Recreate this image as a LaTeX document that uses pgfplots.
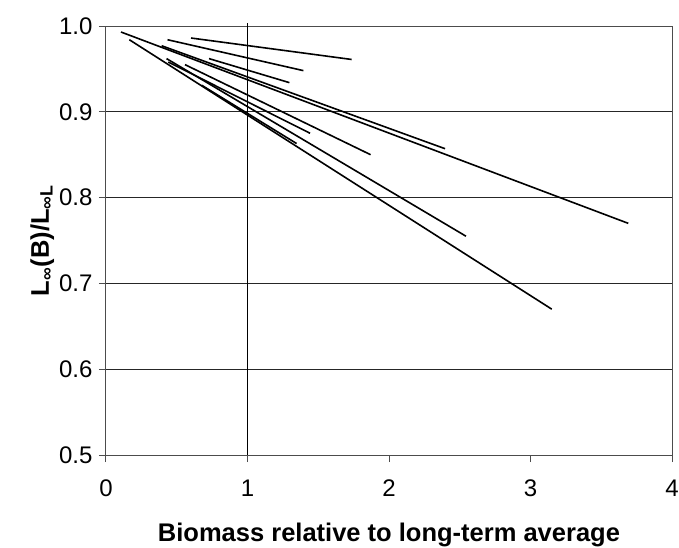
\documentclass[border=0pt]{standalone}
\usepackage{pgfplots}
\pgfplotsset{compat=1.18}
\usepackage{fontspec}
\setmainfont{Liberation Sans}

\begin{document}
\begin{tikzpicture}
\begin{axis}[
    name=ax,
    scale only axis,
    width=566pt, height=429pt,
    xmin=0, xmax=4,
    ymin=0.5, ymax=1.0,
    xtick={0,1,2,3,4},
    ytick={0.5,0.6,0.7,0.8,0.9,1.0},
    ymajorgrids,
    major grid style={black!85, line width=0.8pt},
    axis line style={black!70, line width=1pt},
    tick style={black!70, line width=1pt},
    tick align=outside,
    major tick length=7pt,
    xtick pos=bottom, ytick pos=left,
    /pgf/number format/assume math mode=true,
    yticklabel style={/pgf/number format/fixed, /pgf/number format/fixed zerofill,
        /pgf/number format/precision=1, xshift=-3pt},
    ticklabel style={font=\fontsize{24}{28}\selectfont},
    xticklabel style={yshift=-14pt},
    label style={font=\fontsize{25.5}{30}\selectfont\bfseries},
    xlabel={Biomass relative to long-term average},
    ylabel={L\textsubscript{∞}(B)/L\textsubscript{∞L}},
    xlabel style={yshift=-20pt},
    ylabel style={yshift=-2pt},
    clip=false,
]
% vertical reference at B = 1
\addplot[black, line width=1.7pt] coordinates {(1,0.5) (1,1.003)};

% individual relationships
\addplot[black, line width=1.6pt] coordinates {(0.106,0.993) (3.691,0.770)};
\addplot[black, line width=1.6pt] coordinates {(0.165,0.984) (3.150,0.670)};
\addplot[black, line width=1.6pt] coordinates {(0.393,0.977) (2.396,0.857)};
\addplot[black, line width=1.6pt] coordinates {(0.428,0.962) (2.544,0.755)};
\addplot[black, line width=1.6pt] coordinates {(0.558,0.955) (1.870,0.850)};
\addplot[black, line width=1.6pt] coordinates {(0.440,0.958) (1.442,0.875)};
\addplot[black, line width=1.6pt] coordinates {(0.676,0.931) (1.347,0.863)};
\addplot[black, line width=1.6pt] coordinates {(0.601,0.986) (1.736,0.961)};
\addplot[black, line width=1.6pt] coordinates {(0.435,0.984) (1.395,0.948)};
\addplot[black, line width=1.6pt] coordinates {(0.728,0.962) (1.296,0.934)};
\end{axis}
\pgfresetboundingbox
\path ([shift={(-106pt,-92pt)}]ax.south west) rectangle ([shift={(573pt,455pt)}]ax.south west);
\end{tikzpicture}
\end{document}
